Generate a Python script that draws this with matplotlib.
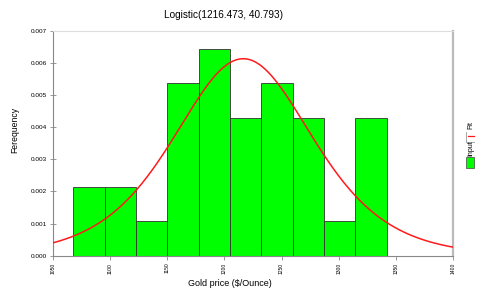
import numpy as np
import matplotlib
matplotlib.use("Agg")
import matplotlib.pyplot as plt
from matplotlib.patches import Rectangle
from matplotlib.lines import Line2D

plt.rcParams['font.family'] = ['Liberation Sans', 'DejaVu Sans']

# Data
bin_start = 1067.8
bin_width = 27.42
counts = [2, 2, 1, 5, 6, 4, 5, 4, 1, 4]
mu, s = 1216.473, 40.793
x_ticks = [1050, 1100, 1150, 1200, 1250, 1300, 1350, 1400]
y_ticks = [0.000, 0.001, 0.002, 0.003, 0.004, 0.005, 0.006, 0.007]

n_total = sum(counts)
lefts = [bin_start + i * bin_width for i in range(len(counts))]
dens = [c / (n_total * bin_width) for c in counts]

W, H = 478, 293
def fx(px): return px / W
def fy(py): return 1 - py / H

fig = plt.figure(figsize=(4.78, 2.93), dpi=100)
ax = fig.add_axes([53/W, 1 - 255.7/H, 400/W, 225/H])

ax.bar(lefts, dens, width=bin_width, align='edge', color='#00ff00',
       edgecolor='#333333', linewidth=0.6, zorder=2)

xs = np.linspace(1050, 1400, 400)
z = np.exp(-(xs - mu) / s)
pdf = z / (s * (1 + z) ** 2)
ax.plot(xs, pdf, color='#ff1a1a', linewidth=1.1, zorder=3)

ax.set_xlim(1050, 1400)
ax.set_ylim(0, 0.007)
ax.set_xticks(x_ticks)
ax.set_xticklabels([str(v) for v in x_ticks], rotation=90, fontsize=3.6)
ax.set_yticks(y_ticks)
ax.set_yticklabels([f"{v:.3f}" for v in y_ticks], fontsize=4.6)
ax.tick_params(axis='y', direction='inout', length=5, width=0.6, color='#888888', pad=2)
ax.tick_params(axis='x', direction='out', length=3, width=0.6, color='#888888', pad=2)
for side in ['left', 'bottom']:
    ax.spines[side].set_color('#888888')
    ax.spines[side].set_linewidth(0.8)
ax.spines['top'].set_color('#dddddd')
ax.spines['top'].set_linewidth(0.8)
ax.spines['right'].set_color('#bbbbbb')
ax.spines['right'].set_linewidth(1.6)

fig.text(fx(223), fy(14.5), "Logistic(1216.473, 40.793)", fontsize=7.2,
         ha='center', va='center')
fig.text(fx(230), fy(283), "Gold price ($/Ounce)", fontsize=6.5,
         ha='center', va='center')
fig.text(fx(15), fy(130), "Ferequency", fontsize=6.2, rotation=90,
         ha='center', va='center')

# Legend on the right (rotated)
fig.add_artist(Rectangle((fx(466), fy(168)), 8/W, 11/H, transform=fig.transFigure,
                         facecolor='#00ff00', edgecolor='#444444', linewidth=0.5))
fig.text(fx(470.5), fy(148), "Input", rotation=90, fontsize=5, ha='center', va='center')
fig.add_artist(Line2D([fx(466), fx(466), fx(474)], [fy(132), fy(142), fy(142)],
                      transform=fig.transFigure, color='#999999', linewidth=0.6))
fig.add_artist(Line2D([fx(467.5), fx(474)], [fy(136.5), fy(136.5)],
                      transform=fig.transFigure, color='#ff1a1a', linewidth=0.9))
fig.text(fx(470.5), fy(125), "Fit", rotation=90, fontsize=5, ha='center', va='center')

fig.savefig("out.png", dpi=100)
